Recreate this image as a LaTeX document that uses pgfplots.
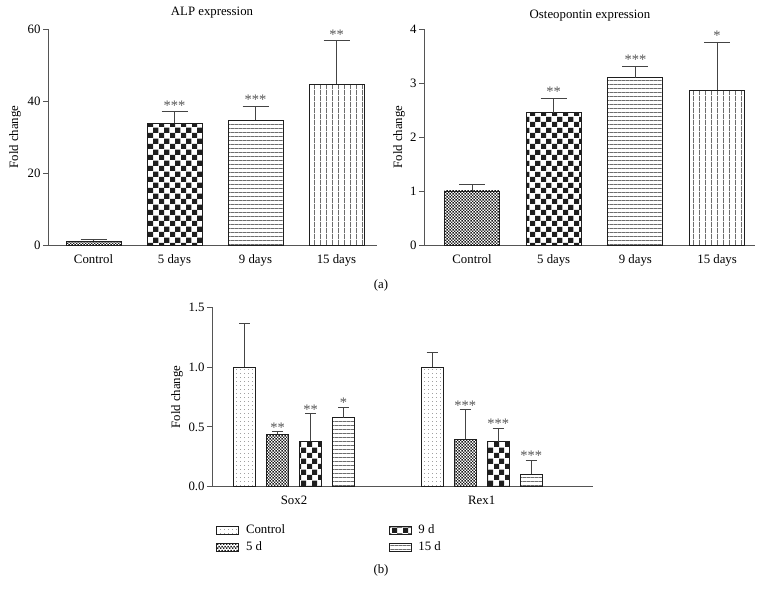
\documentclass[border=0pt]{standalone}
\usepackage{fontspec}
\setmainfont{Liberation Serif}
\usepackage{pgfplots}
\pgfplotsset{compat=1.18}
\usetikzlibrary{patterns.meta}

\definecolor{axc}{HTML}{555555}
\definecolor{barc}{HTML}{1E1E1E}
\definecolor{errc}{HTML}{444444}
\definecolor{starc}{HTML}{555555}
\newcommand{\fsz}{\fontsize{12.8pt}{15pt}\selectfont}
\newcommand{\ssz}{\fontsize{14.5pt}{16pt}\selectfont}

\tikzdeclarepattern{name=bigcheck, type=uncolored,
  bounding box={(0pt,0pt) and (10.6pt,10.6pt)}, tile size={(10.6pt,10.6pt)},
  code={\fill (0pt,0pt) rectangle (5.3pt,5.3pt); \fill (5.3pt,5.3pt) rectangle (10.6pt,10.6pt);}}
\tikzdeclarepattern{name=finecheck, type=uncolored,
  bounding box={(0pt,0pt) and (3.4pt,3.4pt)}, tile size={(3.4pt,3.4pt)},
  code={\fill (0pt,0pt) rectangle (1.7pt,1.7pt); \fill (1.7pt,1.7pt) rectangle (3.4pt,3.4pt);}}
\tikzdeclarepattern{name=hlines, type=uncolored,
  bounding box={(0pt,0pt) and (4.3pt,4.3pt)}, tile size={(4.3pt,4.3pt)},
  code={\fill (0pt,0pt) rectangle (4.3pt,0.75pt);}}
\tikzdeclarepattern{name=vlines, type=uncolored,
  bounding box={(0pt,0pt) and (5.5pt,5.5pt)}, tile size={(5.5pt,5.5pt)},
  code={\fill (0pt,0pt) rectangle (0.75pt,5.5pt);}}
\tikzdeclarepattern{name=dotpat, type=uncolored,
  bounding box={(0pt,0pt) and (4pt,3.7pt)}, tile size={(4pt,3.7pt)},
  code={\fill (0pt,0pt) rectangle (0.8pt,0.8pt);}}

\tikzset{
  stars/.style={font=\ssz, text=starc, anchor=base, inner sep=0pt, yshift=1.5pt},
  starsb/.style={font=\ssz, text=starc, anchor=base, inner sep=0pt, yshift=-0.5pt},
}
\pgfplotsset{
  myax/.style={scale only axis, anchor=south west,
    axis x line*=bottom, axis y line*=left,
    axis line style={axc, line width=0.8pt},
    ymin=0, xtick style={draw=none},
    ytick style={axc, line width=0.8pt},
    tick align=outside, major tick length=5pt,
    ytick pos=left, xtick pos=bottom,
    tick label style={font=\fsz},
    yticklabel style={xshift=2pt},
    /pgf/number format/assume math mode=true,
    clip=false},
  bstyle/.style={ybar, bar width=55pt, bar shift=0pt, draw=barc, line width=0.8pt,
    pattern=#1, pattern color=barc,
    error bars/.cd, y dir=plus, y explicit,
    error bar style={errc, line width=0.8pt},
    error mark options={rotate=90, errc, mark size=13pt, line width=0.8pt}},
  cstyle/.style={draw=barc, line width=0.8pt,
    pattern=#1, pattern color=barc,
    error bars/.cd, y dir=plus, y explicit,
    error bar style={errc, line width=0.8pt},
    error mark options={rotate=90, errc, mark size=5.5pt, line width=0.8pt}},
}

\begin{document}
\fsz
\begin{tikzpicture}[font=\fsz]
\useasboundingbox (0pt,0pt) rectangle (764pt,597pt);

% ---------- (a) left: ALP ----------
\begin{axis}[myax, at={(48pt,352pt)}, width=329pt, height=216pt,
  xmin=-0.562, xmax=3.5, ymax=60, ytick={0,20,40,60},
  xtick={0,1,2,3}, xticklabels={Control,5 days,9 days,15 days}]
\addplot[bstyle=finecheck] coordinates {(0,1.0) +- (0,0.6)};
\addplot[bstyle=bigcheck] coordinates {(1,33.8) +- (0,3.2)};
\addplot[bstyle=hlines] coordinates {(2,34.7) +- (0,3.9)};
\addplot[bstyle=vlines] coordinates {(3,44.6) +- (0,12.1)};
\node[stars] at (axis cs:1,37.0) {***};
\node[stars] at (axis cs:2,38.6) {***};
\node[stars] at (axis cs:3,56.7) {**};
\end{axis}

% ---------- (a) right: Osteopontin ----------
\begin{axis}[myax, at={(424pt,352pt)}, width=331pt, height=216pt,
  xmin=-0.5875, xmax=3.464, ymax=4, ytick={0,1,2,3,4},
  xtick={0,1,2,3}, xticklabels={Control,5 days,9 days,15 days}]
\addplot[bstyle=finecheck] coordinates {(0,1.0) +- (0,0.12)};
\addplot[bstyle=bigcheck] coordinates {(1,2.45) +- (0,0.27)};
\addplot[bstyle=hlines] coordinates {(2,3.10) +- (0,0.21)};
\addplot[bstyle=vlines] coordinates {(3,2.87) +- (0,0.89)};
\node[stars] at (axis cs:1,2.72) {**};
\node[stars] at (axis cs:2,3.31) {***};
\node[stars] at (axis cs:3,3.76) {*};
\end{axis}

% ---------- (b) ----------
\begin{axis}[myax, at={(212pt,110.3pt)}, width=381pt, height=179.4pt,
  xmin=-0.437, xmax=1.593, ymax=1.5, ytick={0,0.5,1,1.5},
  yticklabel style={/pgf/number format/.cd, fixed, fixed zerofill, precision=1},
  xtick={0,1}, xticklabels={Sox2,Rex1},
  ybar=10.7pt, bar width=22.3pt,
  legend columns=2, transpose legend,
  legend image code/.code={\draw[#1] (0pt,-4pt) rectangle (22pt,4pt);},
  legend style={at={(axis description cs:0,0)}, anchor=north west,
    xshift=4pt, yshift=-36.4pt, draw=none, fill=none, inner sep=0pt,
    font=\fsz, row sep=3.3pt, cells={anchor=west},
    nodes={inner sep=1.5pt},
    /tikz/every odd column/.append style={column sep=5.5pt},
    /tikz/every even column/.append style={column sep=102pt}}]
\addplot[cstyle=dotpat] coordinates {(0,1.0) +- (0,0.365) (1,1.0) +- (0,0.124)};
\addplot[cstyle=finecheck] coordinates {(0,0.438) +- (0,0.022) (1,0.396) +- (0,0.248)};
\addplot[cstyle=bigcheck] coordinates {(0,0.38) +- (0,0.23) (1,0.376) +- (0,0.112)};
\addplot[cstyle=hlines] coordinates {(0,0.577) +- (0,0.087) (1,0.103) +- (0,0.12)};
\legend{Control,5 d,9 d,15 d}
\node[starsb, xshift=-16.5pt] at (axis cs:0,0.46) {**};
\node[starsb, xshift=16.5pt] at (axis cs:0,0.61) {**};
\node[starsb, xshift=49.5pt] at (axis cs:0,0.664) {*};
\node[starsb, xshift=-16.5pt] at (axis cs:1,0.644) {***};
\node[starsb, xshift=16.5pt] at (axis cs:1,0.488) {***};
\node[starsb, xshift=49.5pt] at (axis cs:1,0.223) {***};
\end{axis}

% ---------- texts ----------
\node at (212pt,584pt) {ALP expression};
\node at (590pt,581pt) {Osteopontin expression};
\node[rotate=90] at (15pt,460pt) {Fold change};
\node[rotate=90] at (399pt,460pt) {Fold change};
\node[rotate=90] at (177pt,200pt) {Fold change};
\node at (381pt,312pt) {(a)};
\node at (381pt,27pt) {(b)};
\end{tikzpicture}
\end{document}
